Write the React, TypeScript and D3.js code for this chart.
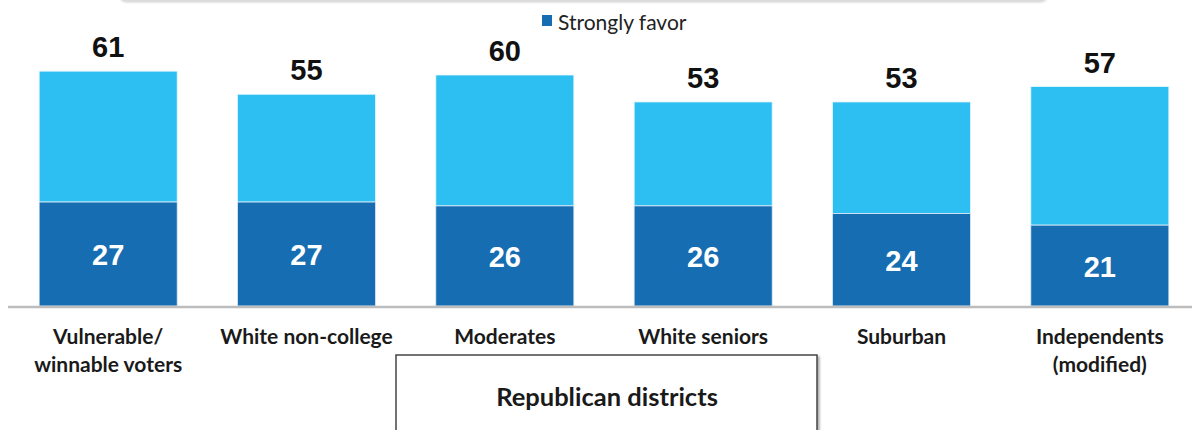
import React from "react";
import * as d3 from "d3";

const categories = [
  ["Vulnerable/", "winnable voters"],
  ["White non-college"],
  ["Moderates"],
  ["White seniors"],
  ["Suburban"],
  ["Independents", "(modified)"],
];
const totalFavor = [61, 55, 60, 53, 53, 57];
const stronglyFavor = [27, 27, 26, 26, 24, 21];
const legendLabel = "Strongly favor";
const groupLabel = "Republican districts";

const W = 1192;
const H = 430;
const LIGHT = "#2dbff2";
const DARK = "#166db2";

export default function App() {
  const ids = categories.map((_, i) => String(i));
  const x = d3.scaleBand<string>().domain(ids).range([9, 1199]).paddingInner(0.304).paddingOuter(0.152);
  const y = d3.scaleLinear().domain([0, 70]).range([306, 306 - 70 * 3.85]);
  const bw = x.bandwidth();
  const labelFont = "Lato, 'Open Sans', sans-serif";
  const numFont = "'Liberation Sans', Arial, sans-serif";

  return (
    <svg width={W} height={H} style={{ position: "absolute", left: 0, top: 0, background: "#fff" }}>
      <defs>
        <filter id="sh" x="-5%" y="-50%" width="110%" height="200%">
          <feDropShadow dx="0" dy="1" stdDeviation="1.5" floodColor="#888" floodOpacity="0.6" />
        </filter>
        <filter id="sh2" x="-5%" y="-20%" width="110%" height="140%">
          <feDropShadow dx="2" dy="2" stdDeviation="1.2" floodColor="#777" floodOpacity="0.6" />
        </filter>
      </defs>
      {/* partial top box */}
      <rect x={120} y={-60} width={927} height={60} rx={6} fill="#fff" stroke="#e4e4e4" strokeWidth={1} filter="url(#sh)" />

      {/* legend */}
      <rect x={542} y={15} width={10} height={11} fill={DARK} />
      <text x={558} y={30} fontFamily={labelFont} fontSize={21} fill="#222">{legendLabel}</text>

      {/* bars */}
      {ids.map((id, i) => {
        const x0 = x(id)!;
        const cx = x0 + bw / 2;
        const tTop = y(totalFavor[i]);
        const sTop = y(stronglyFavor[i]);
        return (
          <g key={id}>
            <rect x={x0} y={tTop} width={bw} height={sTop - tTop} fill={LIGHT} stroke="#e8f7fd" strokeWidth={0.8} />
            <rect x={x0} y={sTop} width={bw} height={y(0) - sTop} fill={DARK} stroke="#dfeaf4" strokeWidth={0.8} />
            <text x={cx} y={tTop - 14} textAnchor="middle" fontFamily={numFont} fontWeight="bold" fontSize={29} fill="#111">
              {totalFavor[i]}
            </text>
            <text x={cx} y={(sTop + y(0)) / 2 + 11} textAnchor="middle" fontFamily={numFont} fontWeight="bold" fontSize={29} fill="#fff">
              {stronglyFavor[i]}
            </text>
            {categories[i].map((line, j) => (
              <text key={j} x={cx} y={344 + j * 28} textAnchor="middle" fontFamily={labelFont} fontWeight="bold" fontSize={21} fill="#1a1a1a">
                {line}
              </text>
            ))}
          </g>
        );
      })}

      {/* axis baseline */}
      <line x1={8} x2={W} y1={y(0) + 1} y2={y(0) + 1} stroke="#bdbdbd" strokeWidth={2.5} />

      {/* group box */}
      <rect x={396} y={355} width={421} height={90} fill="#fff" stroke="#444" strokeWidth={1.5} filter="url(#sh2)" />
      <text x={607} y={406} textAnchor="middle" fontFamily={labelFont} fontWeight="bold" fontSize={25.5} fill="#1a1a1a">
        {groupLabel}
      </text>
    </svg>
  );
}
